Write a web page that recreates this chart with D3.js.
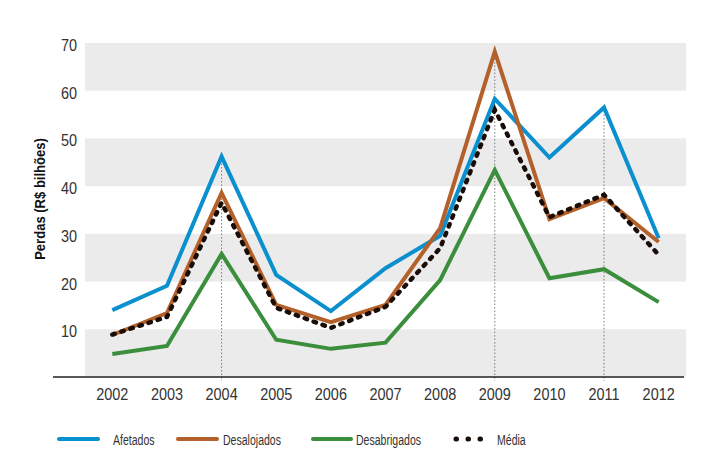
<!DOCTYPE html>
<html><head><meta charset="utf-8">
<script src="https://cdn.jsdelivr.net/npm/d3@7"></script>
<style>body{margin:0;background:#fff}svg{display:block}</style>
</head><body>
<svg id="c" width="713" height="465"></svg>
<script>
const years = ["2002","2003","2004","2005","2006","2007","2008","2009","2010","2011","2012"];
const afetados = [14.0,19.1,46.2,21.4,13.8,22.8,29.6,58.3,46.0,56.5,29.1];
const desalojados = [8.8,13.4,38.6,15.1,11.5,15.1,31.2,68.2,33.1,37.5,28.3];
const desabrigados = [4.8,6.5,25.8,7.8,5.9,7.2,20.3,43.4,20.7,22.6,15.7];
const media = [8.9,12.6,36.5,14.5,10.3,14.7,27.0,56.0,33.5,38.2,25.6];
const yTicks = [10,20,30,40,50,60,70];
const markerYears = ["2004","2009","2011"];
const seriesNames = ["Afetados","Desalojados","Desabrigados","Média"];

const font = "'Liberation Sans','Arial',sans-serif";
const svg = d3.select("#c");
const L = 85, R = 686, T = 43, B = 377;
const x = d3.scalePoint().domain(years).range([L, R]).padding(0.5);
const y = d3.scaleLinear().domain([0,70]).range([B, T]);

// condensed text helper
function ctext(sel, px, py, sx) {
  return sel.attr("transform", (d,i) => `translate(${typeof px==="function"?px(d,i):px},${typeof py==="function"?py(d,i):py}) scale(${sx},1)`);
}

// bands
const bands = [[0,10],[20,30],[40,50],[60,70]];
svg.append("g").selectAll("rect").data(bands).join("rect")
  .attr("x", L).attr("width", R - L)
  .attr("y", d => y(d[1])).attr("height", d => y(d[0]) - y(d[1]))
  .attr("fill", "#ebebeb");

// y tick labels
ctext(svg.append("g").selectAll("text").data(yTicks).join("text"), 77, d => y(d) + 8, 0.85)
  .attr("text-anchor", "end")
  .attr("font-family", font).attr("font-size", 17).attr("fill", "#333")
  .text(d => d);

// y title
svg.append("text")
  .attr("transform", `translate(45,199) rotate(-90) scale(0.9,1)`)
  .attr("text-anchor","middle")
  .attr("font-family", font).attr("font-size", 14.5).attr("font-weight","bold").attr("fill","#111")
  .text("Perdas (R$ bilhões)");

// vertical dotted markers
const allSeries = [afetados, desalojados, desabrigados, media];
svg.append("g").selectAll("line").data(markerYears).join("line")
  .attr("x1", d => x(d)).attr("x2", d => x(d))
  .attr("y1", d => { const i = years.indexOf(d); return y(d3.max(allSeries, s => s[i])); })
  .attr("y2", B + 4)
  .attr("stroke", "#777").attr("stroke-width", 1).attr("stroke-dasharray", "1.5,2");

// x axis labels
ctext(svg.append("g").selectAll("text").data(years).join("text"), d => x(d), 400, 0.85)
  .attr("text-anchor", "middle")
  .attr("font-family", font).attr("font-size", 17).attr("fill", "#333")
  .text(d => d);
svg.append("line").attr("x1", 53).attr("x2", 684).attr("y1", B).attr("y2", B)
  .attr("stroke", "#222").attr("stroke-width", 1.5);

const line = d3.line().x((d,i) => x(years[i])).y(d => y(d));
const colors = ["#0a8fcf","#b4602a","#3a8e3c","#1a0d08"];
const styles = [
  {data: afetados, c: colors[0]},
  {data: desabrigados, c: colors[2]},
  {data: desalojados, c: colors[1]},
  {data: media, c: colors[3], dash: true}
];
styles.forEach(s => {
  const p = svg.append("path").datum(s.data).attr("d", line)
    .attr("fill","none").attr("stroke", s.c).attr("stroke-width", 4);
  if (s.dash) p.attr("stroke-dasharray","2.5,7").attr("stroke-linecap","round").attr("stroke-width",4.5);
  else p.attr("stroke-linejoin","miter");
});

// legend
const legend = [
  {name: seriesNames[0], c: colors[0], x1: 59, x2: 98, tx: 113},
  {name: seriesNames[1], c: colors[1], x1: 178, x2: 217, tx: 223},
  {name: seriesNames[2], c: colors[2], x1: 313, x2: 351, tx: 356},
  {name: seriesNames[3], c: colors[3], x1: 456, x2: 492, tx: 497, dash: true}
];
const lg = svg.append("g").selectAll("g").data(legend).join("g");
lg.append("line").attr("x1", d => d.x1).attr("x2", d => d.x2).attr("y1", 439).attr("y2", 439)
  .attr("stroke", d => d.c).attr("stroke-linecap","round")
  .attr("stroke-dasharray", d => d.dash ? "0.5,11.5" : null)
  .attr("stroke-width", d => d.dash ? 5 : 4);
ctext(lg.append("text"), d => d.tx, 445, 0.68)
  .attr("font-family", font).attr("font-size", 15.5).attr("fill", "#333")
  .text(d => d.name);
</script>
</body></html>
